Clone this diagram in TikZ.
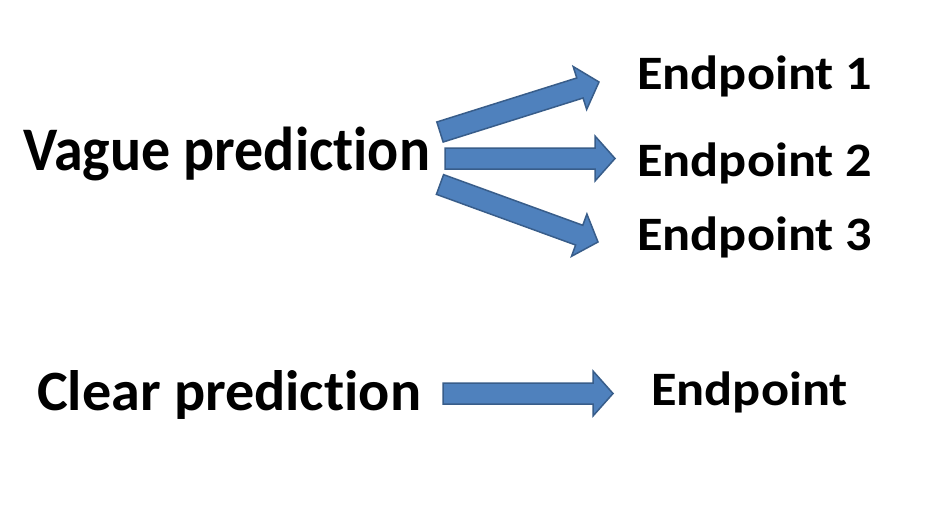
\documentclass[tikz,border=0pt]{standalone}
\usepackage{fontspec}
\setmainfont[Ligatures={NoCommon}]{Carlito}
\usetikzlibrary{calc}
\definecolor{arrfill}{HTML}{4F81BD}
\definecolor{arrline}{HTML}{385D8A}
\tikzset{
  barrow/.style={fill=arrfill, draw=arrline, line width=1.5pt, line join=miter},
  bigtxt/.style={anchor=base west, inner sep=0pt, xscale=0.935, font=\fontsize{62}{70}\selectfont\bfseries},
  midtxt/.style={anchor=base west, inner sep=0pt, xscale=1.02, font=\fontsize{57}{66}\selectfont\bfseries},
  eptxt/.style={anchor=base west, inner sep=0pt, xscale=1.09, font=\fontsize{48}{56}\selectfont\bfseries},
}
\newcommand\blockarrow[2]{%
  \coordinate (ba-c) at ($(#2)!20pt!(#1)$);
  \draw[barrow] ($(#1)!10.5pt!90:(#2)$) -- ($(ba-c)!10.5pt!90:(#2)$) -- ($(ba-c)!22.5pt!90:(#2)$) -- (#2)
    -- ($(ba-c)!22.5pt!-90:(#2)$) -- ($(ba-c)!10.5pt!-90:(#2)$) -- ($(#1)!10.5pt!-90:(#2)$) -- cycle;}
\begin{document}
\begin{tikzpicture}[x=1pt,y=-1pt]
\useasboundingbox[fill=white] (0,0) rectangle (943,519);
\node[bigtxt] (vague) at (23,170) {Vague prediction};
\node[midtxt] (clear) at (37,410) {Clear prediction};
\node[eptxt] (ep1) at (637,90) {Endpoint 1};
\node[eptxt] (ep2) at (637,176) {Endpoint 2};
\node[eptxt] (ep3) at (637,250) {Endpoint 3};
\node[eptxt] (ep) at (651,405) {Endpoint};
\coordinate (vs1) at (440,132);
\coordinate (ve1) at (599,82);
\coordinate (vs2) at (445,158.5);
\coordinate (ve2) at (615,158.5);
\coordinate (vs3) at (440,184.5);
\coordinate (ve3) at (598,242);
\coordinate (cs) at (443,393.5);
\coordinate (ce) at (613,393.5);
\blockarrow{vs1}{ve1}
\blockarrow{vs2}{ve2}
\blockarrow{vs3}{ve3}
\blockarrow{cs}{ce}
\end{tikzpicture}
\end{document}
